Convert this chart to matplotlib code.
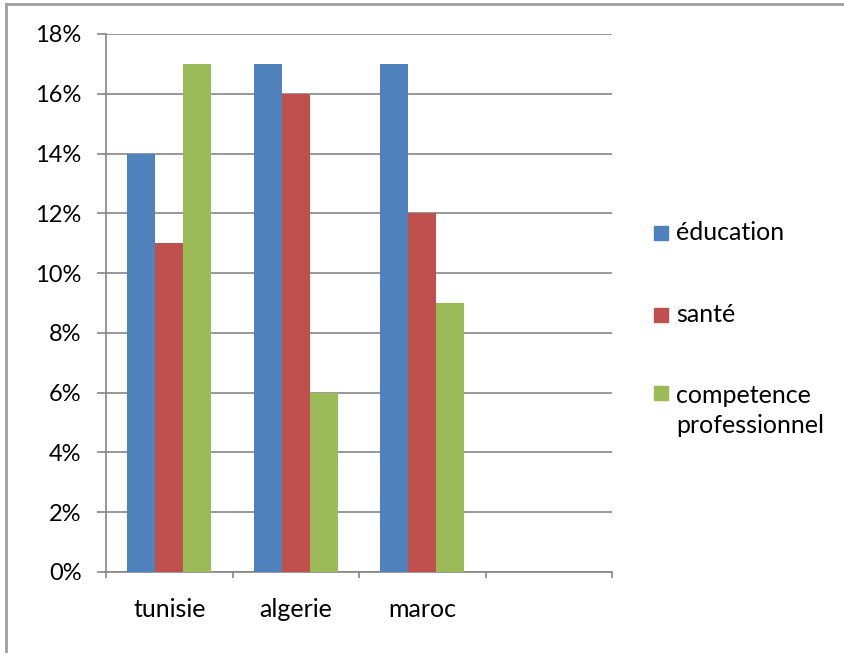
import matplotlib.pyplot as plt
import numpy as np
from matplotlib.patches import Rectangle
from matplotlib.lines import Line2D
from matplotlib.ticker import FuncFormatter, MultipleLocator

pays = ["tunisie", "algerie", "maroc"]
series = ["éducation", "santé", "competence\nprofessionnel"]
education = [14, 17, 17]
sante = [11, 16, 12]
competence = [17, 6, 9]
couleurs = ["#4F81BD", "#C0504D", "#9BBB59"]

plt.rcParams["font.family"] = ["Lato", "DejaVu Sans"]
gris = "#868686"
taille = 18

fig = plt.figure(figsize=(8.44, 6.53), dpi=100)
W, H = 844, 653
ax = fig.add_axes([106 / W, (H - 572) / H, (612 - 106) / W, (572 - 34) / H])

n_slots = 4
largeur = 1 / 4.5
x = np.arange(len(pays))
valeurs = [education, sante, competence]
for i, (vals, c) in enumerate(zip(valeurs, couleurs)):
    ax.bar(x + (i - 1) * largeur, vals, largeur, color=c, zorder=3)

ax.set_xlim(-0.5, n_slots - 0.5)
ax.set_ylim(0, 18)
ax.yaxis.set_major_locator(MultipleLocator(2))
ax.yaxis.set_major_formatter(FuncFormatter(lambda v, p: f"{v:.0f}%"))
ax.grid(axis="y", color=gris, linewidth=1.2, zorder=0)

ax.set_xticks(np.arange(-0.5, n_slots, 1))
ax.set_xticklabels([])
ax.set_xticks(x, minor=True)
ax.set_xticklabels(pays, minor=True, fontsize=taille)
ax.tick_params(axis="x", which="major", length=4.5, width=1.2, color=gris, direction="out")
ax.tick_params(axis="x", which="minor", length=0, pad=19)
ax.tick_params(axis="y", length=6.5, width=1.2, color=gris, labelsize=17, pad=11)

for s in ["top", "right"]:
    ax.spines[s].set_visible(False)
for s in ["left", "bottom"]:
    ax.spines[s].set_color(gris)
    ax.spines[s].set_linewidth(1.2)

# légende à droite
pos_y = [233, 315, 393]
for label, c, yy in zip(series, couleurs, pos_y):
    fig.patches.append(Rectangle((654 / W, (H - yy - 7) / H), 14 / W, 14 / H,
                                 transform=fig.transFigure, color=c))
    yt = yy + 17.5 if "\n" in label else yy
    fig.text(676 / W, (H - yt) / H, label, fontsize=taille, va="center", linespacing=1.4)

# cadre extérieur
fig.lines.append(Line2D([6 / W, 6 / W], [0, 1 - 4 / H], transform=fig.transFigure, color="#A0A0A0", linewidth=2))
fig.lines.append(Line2D([6 / W, 1], [1 - 4 / H, 1 - 4 / H], transform=fig.transFigure, color="#A0A0A0", linewidth=2))

fig.savefig("out.png", dpi=100)
